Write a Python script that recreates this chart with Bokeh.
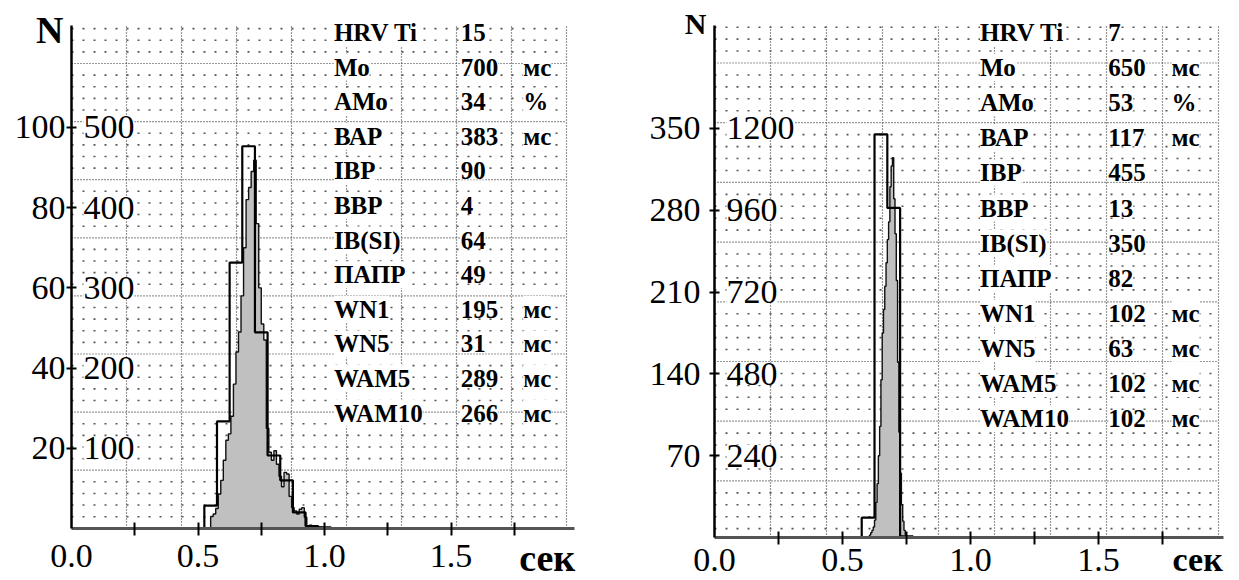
import numpy as np
from bokeh.plotting import figure
from bokeh.models import (Range1d, FixedTicker, ColumnDataSource, LabelSet, Label,
                          LinearAxis, PrintfTickFormatter)
from bokeh.core.properties import value
from bokeh.layouts import row
from bokeh.embed import file_html
from bokeh.resources import INLINE

# ------------------------------------------------------------------ data
PARAM_NAMES = ["HRV Ti", "Мо", "АМо", "ВАР", "ІВР", "ВВР", "ІВ(SI)", "ПАПР",
               "WN1", "WN5", "WAM5", "WAM10"]
PARAM_UNITS = ["", "мс", "%", "мс", "", "", "", "", "мс", "мс", "мс", "мс"]
LEFT_VALUES = [15, 700, 34, 383, 90, 4, 64, 49, 195, 31, 289, 266]
RIGHT_VALUES = [7, 650, 53, 117, 455, 13, 350, 82, 102, 63, 102, 102]

X_TICKS = [0.25, 0.5, 0.75, 1.0, 1.25, 1.5, 1.75]
X_LABEL_POS = [0.0, 0.5, 1.0, 1.5]
X_UNIT = "сек"
Y_TITLE = "N"

LEFT_Y_TICKS = [20, 40, 60, 80, 100]
LEFT_COUNT_LABELS = [100, 200, 300, 400, 500]
RIGHT_Y_TICKS = [70, 140, 210, 280, 350]
RIGHT_COUNT_LABELS = [240, 480, 720, 960, 1200]

# coarse 50 ms histogram (values in left-hand axis units)
COARSE_WIDTH = 0.05
LEFT_COARSE_START = 0.525
LEFT_COARSE = [5.7, 26.7, 66.3, 95.3, 48.9, 18.2, 12, 4, 0.6, 0.3]
RIGHT_COARSE_START = 0.575
RIGHT_COARSE = [17, 345, 282, 1]

# fine histogram (values in count units, i.e. the right-hand labels)
LEFT_FINE_START = 0.55
LEFT_FINE_WIDTH = 0.01
LEFT_FINE = [15, 18, 25, 43, 60, 85, 110, 118, 140, 180, 220, 245, 290, 350, 410,
             425, 445, 459, 380, 300, 255, 235, 125, 95, 85, 97, 80, 65, 52, 70,
             68, 40, 26, 22, 18, 24, 26, 14, 3, 4, 3, 1.5, 1.5, 1.5, 1]
RIGHT_FINE_START = 0.605
RIGHT_FINE_WIDTH = 0.005
RIGHT_FINE = [7, 14, 21, 31, 51, 103, 158, 240, 326, 463, 600, 669, 737, 806, 874,
              926, 1029, 1090, 1114, 994, 891, 754, 514, 309, 189, 96, 48, 21, 7]

# ------------------------------------------------------------------ style / layout
SERIF = "Liberation Serif"
H = 580
TABLE_COL_X = [1.037, 1.538, 1.785]
GRAY = "#c0c0c0"

PANELS = [
    dict(width=620, frame=(71, 25, 503, 503), xmax=1.988, ymax=125.4,
         y_ticks=LEFT_Y_TICKS, count_labels=LEFT_COUNT_LABELS,
         coarse_start=LEFT_COARSE_START, coarse=LEFT_COARSE,
         fine_start=LEFT_FINE_START, fine_width=LEFT_FINE_WIDTH, fine=LEFT_FINE,
         values=LEFT_VALUES, grid_col_px=55.0, grid_first_px=38.0, grid_row_px=58.1,
         row0_px=32.0, row_step_px=34.6, ylab_standoff=1, xlab_standoff=9,
         n_size="38px", n_dy=-4, unit_x=1.88, unit_dy=-29, unit_size="38px"),
    dict(width=619, frame=(94, 25, 509, 512), xmax=1.988, ymax=438.1,
         y_ticks=RIGHT_Y_TICKS, count_labels=RIGHT_COUNT_LABELS,
         coarse_start=RIGHT_COARSE_START, coarse=RIGHT_COARSE,
         fine_start=RIGHT_FINE_START, fine_width=RIGHT_FINE_WIDTH, fine=RIGHT_FINE,
         values=RIGHT_VALUES, grid_col_px=56.0, grid_first_px=37.5, grid_row_px=59.7,
         row0_px=32.0, row_step_px=35.1, ylab_standoff=9, xlab_standoff=4,
         n_size="30px", n_dy=2, unit_x=1.887, unit_dy=-22, unit_size="34px"),
]


def step_outline(start, width, vals):
    edges = [round(start + i * width, 5) for i in range(len(vals) + 1)]
    xs = [edges[0]] + edges
    ys = [0] + list(vals) + [0]
    return xs, ys


def make_panel(c):
    FL, FT, FW, FH = c["frame"]
    W = c["width"]
    XMAX, YMAX = c["xmax"], c["ymax"]
    sx = FW / XMAX
    sy = FH / YMAX
    factor = c["count_labels"][-1] / c["y_ticks"][-1]

    x_lo, x_hi = -FL / sx, (W - FL) / sx
    y_lo, y_hi = -(H - FT - FH) / sy, YMAX + FT / sy

    p = figure(width=W, height=H, title=None,
               x_range=Range1d(x_lo, x_hi), y_range=Range1d(y_lo, y_hi),
               x_axis_type=None, y_axis_type=None,
               output_backend="svg", toolbar_location=None,
               min_border_left=0, min_border_right=0,
               min_border_top=0, min_border_bottom=0)
    p.extra_y_ranges = {"count": Range1d(y_lo * factor, y_hi * factor)}
    p.outline_line_color = None
    p.background_fill_color = "white"
    p.border_fill_color = "white"

    # ---- dotted grid (drawn as dashed segments limited to the plot area)
    col_dx = c["grid_col_px"] / sx
    gx = [col_dx * k for k in range(1, 10)]
    grid_right = gx[-1]
    p.segment(x0=gx, y0=[0] * len(gx), x1=gx, y1=[YMAX] * len(gx),
              line_color="#333333", line_dash="1 2", line_width=1.2)

    row_dy = c["grid_row_px"] / sy
    first = YMAX - c["grid_first_px"] / sy
    major_y = [first - k * row_dy for k in range(0, 12) if first - k * row_dy > 0.5 * row_dy / 5]
    minor_y = []
    for j in range(-10, 60):
        if j % 5 == 0:
            continue
        yv = first - j * row_dy / 5
        if 3.0 / sy < yv < YMAX - 1.0 / sy:
            minor_y.append(yv)
    p.segment(x0=[0] * len(major_y), y0=major_y, x1=[grid_right] * len(major_y), y1=major_y,
              line_color="#333333", line_dash="1 2", line_width=1.2)
    p.segment(x0=[0] * len(minor_y), y0=minor_y, x1=[grid_right] * len(minor_y), y1=minor_y,
              line_color="#555555", line_dash="2 9", line_width=1.6)

    # ---- fine histogram (grey, count scale)
    fine = c["fine"]
    edges = [round(c["fine_start"] + i * c["fine_width"], 5) for i in range(len(fine) + 1)]
    p.varea_step(x=edges, y1=[0] * len(edges), y2=list(fine) + [0], step_mode="after",
                 y_range_name="count", fill_color=GRAY)
    fx, fy = step_outline(c["fine_start"], c["fine_width"], fine)
    p.step(x=fx, y=fy, mode="after", y_range_name="count",
           line_color="#111111", line_width=1.4)

    # ---- coarse outline histogram
    cx, cy = step_outline(c["coarse_start"], COARSE_WIDTH, c["coarse"])
    p.step(x=cx, y=cy, mode="after", line_color="black", line_width=2.2)

    # ---- axes (fixed at the data origin)
    xa = LinearAxis(fixed_location=0, bounds=(0, XMAX),
                    ticker=FixedTicker(ticks=X_LABEL_POS, minor_ticks=X_TICKS),
                    formatter=PrintfTickFormatter(format="%.1f"))
    xa.axis_line_color = "#555555"
    xa.axis_line_width = 3
    xa.major_tick_line_color = None
    xa.minor_tick_line_color = "black"
    xa.minor_tick_line_width = 2
    xa.minor_tick_in = 6
    xa.minor_tick_out = 7
    xa.major_tick_in = 0
    xa.major_tick_out = 7
    xa.major_label_standoff = c["xlab_standoff"]
    xa.major_label_text_font = SERIF
    xa.major_label_text_font_size = "34px"
    xa.major_label_text_color = "black"
    p.add_layout(xa, "below")

    ya = LinearAxis(fixed_location=0, bounds=(0, YMAX),
                    ticker=FixedTicker(ticks=c["y_ticks"]))
    ya.axis_line_color = "black"
    ya.axis_line_width = 2.5
    ya.major_tick_line_color = "black"
    ya.major_tick_line_width = 2
    ya.major_tick_in = 5
    ya.major_tick_out = 5
    ya.minor_tick_line_color = None
    ya.major_label_standoff = c["ylab_standoff"]
    ya.major_label_text_font = SERIF
    ya.major_label_text_font_size = "34px"
    ya.major_label_text_color = "black"
    p.add_layout(ya, "left")

    # ---- count labels right of the y axis
    n = len(c["y_ticks"])
    src = ColumnDataSource(dict(x=[0] * n, y=c["y_ticks"],
                                text=[str(v) for v in c["count_labels"]]))
    p.add_layout(LabelSet(x="x", y="y", text="text", source=src, x_offset=12,
                          text_align="left", text_baseline="middle",
                          text_font=value(SERIF), text_font_size=value("34px"),
                          text_color="black", background_fill_color="white"))

    # ---- axis unit and title
    p.add_layout(Label(x=c["unit_x"], y=0, y_offset=c["unit_dy"], text=X_UNIT,
                       text_align="center", text_baseline="middle",
                       text_font=SERIF, text_font_size=c["unit_size"],
                       text_font_style="bold", text_color="black"))
    p.add_layout(Label(x=0, y=YMAX, x_offset=-8, y_offset=c["n_dy"], text=Y_TITLE,
                       text_align="right", text_baseline="middle",
                       text_font=SERIF, text_font_size=c["n_size"],
                       text_font_style="bold", text_color="black"))

    # ---- parameter table
    tx, ty, tt = [], [], []
    for i, (name, val, unit) in enumerate(zip(PARAM_NAMES, c["values"], PARAM_UNITS)):
        ypx = c["row0_px"] + i * c["row_step_px"]
        yd = (FT + FH - ypx) / sy
        for col, txt in zip(TABLE_COL_X, [name, str(val), unit]):
            if txt:
                tx.append(col)
                ty.append(yd)
                tt.append(txt)
    srct = ColumnDataSource(dict(x=tx, y=ty, text=tt))
    p.add_layout(LabelSet(x="x", y="y", text="text", source=srct,
                          text_align="left", text_baseline="middle",
                          text_font=value(SERIF), text_font_size=value("25px"),
                          text_font_style="bold", text_color="black",
                          background_fill_color="white"))
    return p


figs = [make_panel(c) for c in PANELS]
layout = row(*figs)
html = file_html(layout, INLINE, title="HRV histograms")
with open("out.html", "w", encoding="utf-8") as f:
    f.write(html)
